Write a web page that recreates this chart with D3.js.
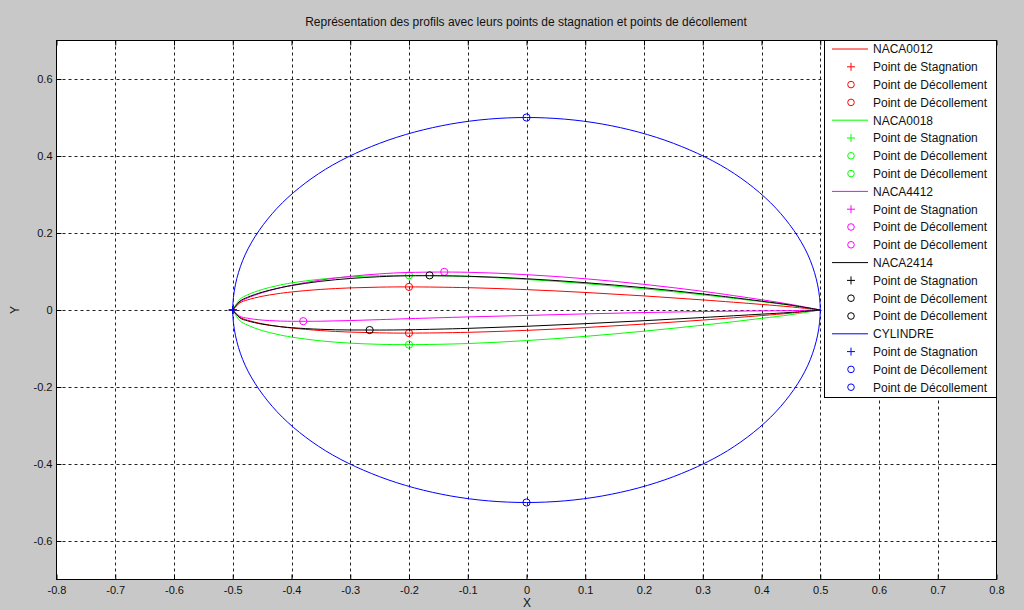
<!DOCTYPE html>
<html>
<head>
<meta charset="utf-8">
<script src="https://cdn.jsdelivr.net/npm/d3@7"></script>
<style>
  body { margin: 0; background: #c8c8c8; }
  svg { display: block; font-family: Arial, "Liberation Sans", sans-serif; }
</style>
</head>
<body>
<div id="content"></div>
<script>
// chord stations (x from -0.5 to 0.5)
const xStations = [-0.5, -0.4875, -0.475, -0.45, -0.425, -0.4, -0.35, -0.3, -0.25, -0.2, -0.1, 0, 0.1, 0.2, 0.3, 0.4, 0.45, 0.5];

const naca0012Upper = [0, 0.0189, 0.0262, 0.0356, 0.0420, 0.0468, 0.0535, 0.0574, 0.0594, 0.0600, 0.0580, 0.0529, 0.0456, 0.0366, 0.0262, 0.0145, 0.0081, 0];
const naca0012Lower = [0, -0.0189, -0.0262, -0.0356, -0.0420, -0.0468, -0.0535, -0.0574, -0.0594, -0.0600, -0.0580, -0.0529, -0.0456, -0.0366, -0.0262, -0.0145, -0.0081, 0];

const naca0018Upper = [0, 0.0284, 0.0392, 0.0533, 0.0630, 0.0703, 0.0802, 0.0861, 0.0891, 0.0900, 0.0871, 0.0794, 0.0685, 0.0550, 0.0394, 0.0217, 0.0121, 0];
const naca0018Lower = [0, -0.0284, -0.0392, -0.0533, -0.0630, -0.0703, -0.0802, -0.0861, -0.0891, -0.0900, -0.0871, -0.0794, -0.0685, -0.0550, -0.0394, -0.0217, -0.0121, 0];

const naca4412Upper = [0, 0.0214, 0.0310, 0.0449, 0.0556, 0.0643, 0.0778, 0.0874, 0.0938, 0.0975, 0.0980, 0.0918, 0.0812, 0.0666, 0.0485, 0.0267, 0.0145, 0];
const naca4412Lower = [0, -0.0165, -0.0213, -0.0262, -0.0284, -0.0293, -0.0291, -0.0274, -0.0250, -0.0225, -0.0180, -0.0141, -0.0101, -0.0066, -0.0040, -0.0023, -0.0017, 0];

const naca2414Upper = [0, 0.0233, 0.0329, 0.0462, 0.0558, 0.0634, 0.0746, 0.0819, 0.0865, 0.0888, 0.0877, 0.0812, 0.0710, 0.0578, 0.0417, 0.0230, 0.0126, 0];
const naca2414Lower = [0, -0.0209, -0.0281, -0.0368, -0.0422, -0.0459, -0.0502, -0.0519, -0.0521, -0.0513, -0.0477, -0.0423, -0.0355, -0.0278, -0.0195, -0.0108, -0.0062, 0];

// cylinder, every 15 degrees
const cylX = [0.5, 0.483, 0.433, 0.354, 0.25, 0.129, 0, -0.129, -0.25, -0.354, -0.433, -0.483, -0.5, -0.483, -0.433, -0.354, -0.25, -0.129, 0, 0.129, 0.25, 0.354, 0.433, 0.483];
const cylY = [0, 0.129, 0.25, 0.354, 0.433, 0.483, 0.5, 0.483, 0.433, 0.354, 0.25, 0.129, 0, -0.129, -0.25, -0.354, -0.433, -0.483, -0.5, -0.483, -0.433, -0.354, -0.25, -0.129];

// stagnation points [x, y]
const stagnation = [[-0.5, 0], [-0.5, 0], [-0.5, 0], [-0.5, 0], [-0.5, 0]];
// separation points, upper then lower
const separation = [
  [[-0.2, 0.06], [-0.2, -0.06]],
  [[-0.2, 0.09], [-0.2, -0.09]],
  [[-0.14, 0.099], [-0.38, -0.029]],
  [[-0.165, 0.09], [-0.267, -0.052]],
  [[0, 0.5], [0, -0.5]]
];

const names = ["NACA0012", "NACA0018", "NACA4412", "NACA2414", "CYLINDRE"];
const colors = ["#ff0000", "#00ff00", "#ff00ff", "#000000", "#0000ff"];

const xTicks = [-0.8, -0.7, -0.6, -0.5, -0.4, -0.3, -0.2, -0.1, 0, 0.1, 0.2, 0.3, 0.4, 0.5, 0.6, 0.7, 0.8];
const yTicks = [-0.6, -0.4, -0.2, 0, 0.2, 0.4, 0.6];

window.onload = function() {
  draw();
};

function fmt(d) {
  return String(+d.toFixed(1));
}

function plusPath(cx, cy, s) {
  return "M" + (cx - s) + "," + cy + "H" + (cx + s) + "M" + cx + "," + (cy - s) + "V" + (cy + s);
}

function draw() {
  let W = 1024, H = 610;
  let svg = d3.select("#content").append("svg")
    .attr("width", W).attr("height", H);

  svg.append("rect").attr("width", W).attr("height", H).attr("fill", "#c8c8c8");

  let x = d3.scaleLinear().domain([-0.8, 0.8]).range([56.5, 996.5]);
  let y = d3.scaleLinear().domain([-0.7, 0.7]).range([579.5, 40.5]);

  // plot area
  svg.append("rect")
    .attr("x", x(-0.8)).attr("y", y(0.7))
    .attr("width", x(0.8) - x(-0.8)).attr("height", y(-0.7) - y(0.7))
    .attr("fill", "#fff");

  // grid
  let grid = svg.append("g").attr("stroke", "#222").attr("stroke-width", 1).attr("stroke-dasharray", "3,3");
  xTicks.slice(1, -1).forEach(function(t) {
    grid.append("line").attr("x1", Math.round(x(t)) + 0.5).attr("x2", Math.round(x(t)) + 0.5)
      .attr("y1", y(0.7)).attr("y2", y(-0.7));
  });
  yTicks.forEach(function(t) {
    grid.append("line").attr("y1", Math.round(y(t)) + 0.5).attr("y2", Math.round(y(t)) + 0.5)
      .attr("x1", x(-0.8)).attr("x2", x(0.8));
  });

  // axes with inward ticks
  let xAxis = svg.append("g").attr("transform", "translate(0," + y(-0.7) + ")")
    .call(d3.axisBottom(x).tickValues(xTicks).tickSize(-5).tickPadding(7).tickFormat(fmt));
  let xTop = svg.append("g").attr("transform", "translate(0," + y(0.7) + ")")
    .call(d3.axisTop(x).tickValues(xTicks).tickSize(-5).tickFormat(""));
  let yAxis = svg.append("g").attr("transform", "translate(" + x(-0.8) + ",0)")
    .call(d3.axisLeft(y).tickValues(yTicks).tickSize(-5).tickPadding(4).tickFormat(fmt));
  let yRight = svg.append("g").attr("transform", "translate(" + x(0.8) + ",0)")
    .call(d3.axisRight(y).tickValues(yTicks).tickSize(-5).tickFormat(""));
  [xAxis, xTop, yAxis, yRight].forEach(function(a) {
    a.select(".domain").remove();
    a.selectAll("text").attr("font-size", 11).attr("fill", "#111").attr("font-family", "Arial, 'Liberation Sans', sans-serif");
  });

  svg.append("rect")
    .attr("x", x(-0.8)).attr("y", y(0.7))
    .attr("width", x(0.8) - x(-0.8)).attr("height", y(-0.7) - y(0.7))
    .attr("fill", "none").attr("stroke", "#000").attr("stroke-width", 1);

  // profiles
  let line = d3.line().x(d => x(d[0])).y(d => y(d[1])).curve(d3.curveCatmullRom);
  let profiles = [
    [naca0012Upper, naca0012Lower],
    [naca0018Upper, naca0018Lower],
    [naca4412Upper, naca4412Lower],
    [naca2414Upper, naca2414Lower]
  ];
  let plot = svg.append("g");

  function drawMarkers(i) {
    let s = stagnation[i];
    plot.append("path").attr("d", plusPath(x(s[0]), y(s[1]), 4))
      .attr("stroke", colors[i]).attr("stroke-width", 1).attr("fill", "none");
    separation[i].forEach(function(p) {
      plot.append("circle").attr("cx", x(p[0])).attr("cy", y(p[1])).attr("r", 3.6)
        .attr("stroke", colors[i]).attr("stroke-width", 1).attr("fill", "none");
    });
  }

  profiles.forEach(function(pr, i) {
    pr.forEach(function(side) {
      let pts = xStations.map((xs, k) => [xs, side[k]]);
      plot.append("path").attr("d", line(pts))
        .attr("fill", "none").attr("stroke", colors[i]).attr("stroke-width", 1);
    });
    drawMarkers(i);
  });

  let cylPts = cylX.map((v, k) => [v, cylY[k]]);
  plot.append("path")
    .attr("d", d3.line().x(d => x(d[0])).y(d => y(d[1])).curve(d3.curveCatmullRomClosed)(cylPts))
    .attr("fill", "none").attr("stroke", colors[4]).attr("stroke-width", 1);
  drawMarkers(4);

  // legend
  let lg = svg.append("g");
  let lx = 824.5, ly = 40.5, lw = 172, rowH = 17.8;
  lg.append("rect").attr("x", lx).attr("y", ly).attr("width", lw).attr("height", 357)
    .attr("fill", "#fff").attr("stroke", "#000").attr("stroke-width", 1);
  let row = 0;
  names.forEach(function(n, i) {
    let labels = [n, "Point de Stagnation", "Point de Décollement", "Point de Décollement"];
    labels.forEach(function(lab, j) {
      let cy = 49 + row * rowH;
      if (j == 0) {
        lg.append("line").attr("x1", 832).attr("x2", 868).attr("y1", cy).attr("y2", cy)
          .attr("stroke", colors[i]).attr("stroke-width", 1);
      } else if (j == 1) {
        lg.append("path").attr("d", plusPath(851, cy, 4))
          .attr("stroke", colors[i]).attr("stroke-width", 1).attr("fill", "none");
      } else {
        lg.append("circle").attr("cx", 851).attr("cy", cy).attr("r", 3.3)
          .attr("stroke", colors[i]).attr("stroke-width", 1).attr("fill", "none");
      }
      lg.append("text").attr("x", 873).attr("y", cy + 4.3).attr("font-size", 12)
        .attr("fill", "#111").text(lab);
      row++;
    });
  });

  // titles
  svg.append("text").attr("x", 526).attr("y", 26).attr("text-anchor", "middle")
    .attr("font-size", 12).attr("fill", "#111")
    .text("Représentation des profils avec leurs points de stagnation et points de décollement");
  svg.append("text").attr("x", 527).attr("y", 607).attr("text-anchor", "middle")
    .attr("font-size", 12).attr("fill", "#111").text("X");
  svg.append("text").attr("transform", "translate(19,310) rotate(-90)").attr("text-anchor", "middle")
    .attr("font-size", 12).attr("fill", "#111").text("Y");
}
</script>
</body>
</html>
